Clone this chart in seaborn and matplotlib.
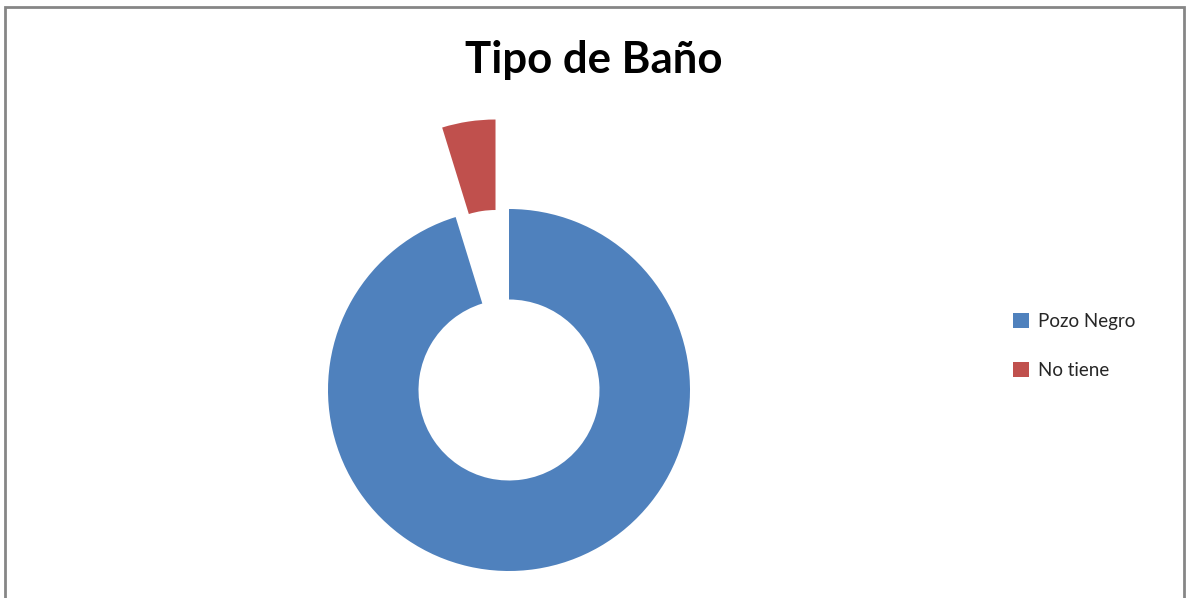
import matplotlib
matplotlib.use("Agg")
import matplotlib.pyplot as plt
from matplotlib.patches import Patch, Rectangle
import seaborn as sns

labels = ["Pozo Negro", "No tiene"]
values = [20, 1]
colors = ["#4F81BD", "#C0504D"]

sns.set_theme(style="white")
plt.rcParams["font.family"] = ["Lato", "DejaVu Sans"]

W, H = 1191, 598
fig = plt.figure(figsize=(W / 100, H / 100), dpi=100)
fig.patch.set_facecolor("white")

# donut centre ~ (509, 390) px, outer radius ~181 px
cx, cy, r = 509, 390, 181
half = 300
ax = fig.add_axes([(cx - half) / W, (H - cy - half) / H, 2 * half / W, 2 * half / H])
ax.pie(
    values,
    colors=colors,
    startangle=90,
    counterclock=False,
    explode=[0, 0.5],
    radius=1,
    wedgeprops={"width": 0.5, "linewidth": 0},
)
ax.set_xlim(-half / r, half / r)
ax.set_ylim(-half / r, half / r)
ax.set_aspect("equal")
ax.axis("off")

fig.text(594 / W, 1 - 60 / H, "Tipo de Baño", ha="center", va="center",
         fontsize=31.5, fontweight="bold", color="black")

handles = [Patch(facecolor=c, edgecolor="none") for c in colors]
fig.legend(handles, labels, loc="center left", bbox_to_anchor=(1004 / W, 1 - 346 / H),
           frameon=False, fontsize=13.5, handlelength=0.85, handleheight=0.85,
           handletextpad=0.45, labelspacing=1.7, borderpad=0)

fig.add_artist(Rectangle((5 / W, -0.1), (1184 - 5) / W, (H - 7) / H + 0.1,
                         transform=fig.transFigure, fill=False,
                         edgecolor="#868686", linewidth=2))

fig.savefig("out.png", dpi=100)
